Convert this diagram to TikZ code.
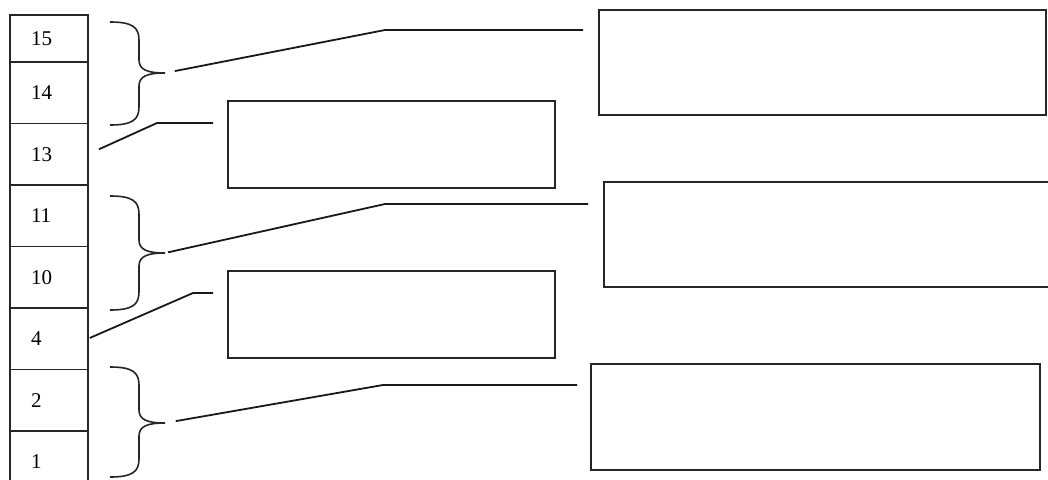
\documentclass[tikz,border=0pt]{standalone}
\usepackage{fontspec}
\setmainfont{Liberation Serif}
\usetikzlibrary{positioning}

\begin{document}
\begin{tikzpicture}[x=1pt,y=-1pt,
  cell/.style={draw=black!85,line width=1.5pt,text width=36pt,inner xsep=21pt,inner ysep=0pt,
    minimum height=61.5pt,outer sep=0pt,font=\fontsize{21}{24}\selectfont},
  box/.style={draw=black!85,line width=1.6pt,anchor=north west,inner sep=0pt,outer sep=0pt},
  wide/.style={box,minimum width=447pt,minimum height=105pt},
  narrow/.style={box,minimum width=327pt,minimum height=87pt},
  ln/.style={draw=black!90,line width=1.8pt},
  brc/.style={draw=black!85,line width=1.6pt}]
\clip (0,0) rectangle (1048,479);
\fill[white] (0,0) rectangle (1048,479);
\node[cell,minimum height=47pt,anchor=north west] (c15) at (10,15) {15};
\node[cell,below=0pt of c15] (c14) {14};
\node[cell,below=0pt of c14] (c13) {13};
\node[cell,below=0pt of c13] (c11) {11};
\node[cell,below=0pt of c11] (c10) {10};
\node[cell,below=0pt of c10] (c4) {4};
\node[cell,below=0pt of c4] (c2) {2};
\node[cell,below=0pt of c2] (c1) {1};
\node[wide] (ansA) at (599,10) {};
\node[narrow] (ansB) at (228,101) {};
\node[wide] (ansC) at (604,182) {};
\node[narrow] (ansD) at (228,271) {};
\node[wide,minimum width=449pt,minimum height=106pt] (ansE) at (591,364) {};
\foreach \i/\t/\m/\b in {1/22/73/125,2/196/253/310,3/367/423/477} {
  \draw[brc] (110,\t) .. controls (132,\t) and (139,\t+5) .. (139,\t+18)
    -- (139,\m-13) .. controls (139,\m-3) and (148,\m) .. (165,\m)
    .. controls (148,\m) and (139,\m+3) .. (139,\m+13)
    -- (139,\b-18) .. controls (139,\b-5) and (132,\b) .. (110,\b);
  \coordinate (b\i) at (165,\m);
}
\coordinate (k1) at (385,30);
\coordinate (k2) at (157,123);
\coordinate (k3) at (385,204);
\coordinate (k4) at (193,293);
\coordinate (k5) at (383,385);
\draw[ln,shorten <=10pt,shorten >=16pt] (b1) -- (k1) -- (k1 -| ansA.west);
\draw[ln,shorten <=12pt,shorten >=15pt] (c13.east) -- (k2) -- (k2 -| ansB.west);
\draw[ln,shorten <=3pt,shorten >=16pt] (b2) -- (k3) -- (k3 -| ansC.west);
\draw[ln,shorten <=2pt,shorten >=15pt] (c4.east) -- (k4) -- (k4 -| ansD.west);
\draw[ln,shorten <=11pt,shorten >=14pt] (b3) -- (k5) -- (k5 -| ansE.west);
\end{tikzpicture}
\end{document}
